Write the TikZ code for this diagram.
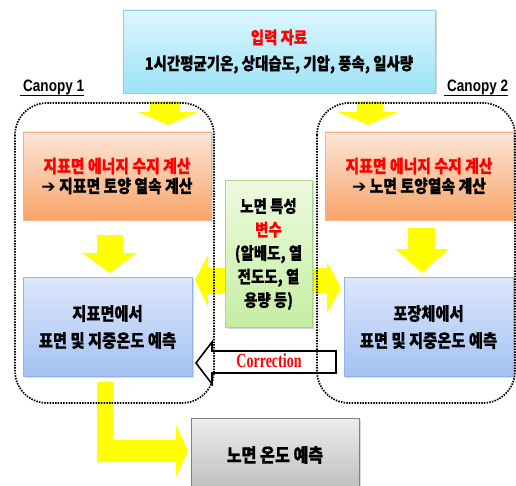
\documentclass[tikz,border=0pt]{standalone}
\usepackage{fontspec}
\usetikzlibrary{shadows}
\newfontfamily\kr{Noto Sans CJK KR}[FakeStretch=0.85, BoldFeatures={FakeBold=0.6}]
\newfontfamily\canfont{Liberation Sans}[FakeStretch=0.82]
\newfontfamily\corrfont{Liberation Serif}[FakeStretch=0.7]
\newfontfamily\dv{DejaVu Sans}
\definecolor{cyanT}{HTML}{DDF6FD}\definecolor{cyanB}{HTML}{9CE2F7}\definecolor{cyanD}{HTML}{8CCFE6}
\definecolor{orT}{HTML}{FDE6D8}\definecolor{orB}{HTML}{F8A468}\definecolor{orD}{HTML}{F4B183}
\definecolor{blT}{HTML}{DDE8FB}\definecolor{blB}{HTML}{A3C1F3}\definecolor{blD}{HTML}{95B3E3}
\definecolor{grT}{HTML}{EEFADF}\definecolor{grB}{HTML}{C4EEA2}\definecolor{grD}{HTML}{A9D68A}
\definecolor{gyT}{HTML}{EDEDED}\definecolor{gyB}{HTML}{BDBDBD}\definecolor{gyD}{HTML}{7F7F7F}
\definecolor{yel}{HTML}{FFFF00}
\tikzset{
  boxbase/.style={draw, line width=0.8pt, align=center, inner sep=0pt,
    drop shadow={shadow xshift=1.5pt, shadow yshift=-1.5pt, opacity=0.3},
    font=\kr\bfseries\fontsize{17.5}{20}\selectfont},
  cyanbox/.style={boxbase, draw=cyanD, top color=cyanT, bottom color=cyanB},
  orbox/.style={boxbase, draw=orD, top color=orT, bottom color=orB},
  blbox/.style={boxbase, draw=blD, top color=blT, bottom color=blB},
  grbox/.style={boxbase, draw=grD, top color=grT, bottom color=grB},
  gybox/.style={boxbase, draw=gyD, top color=gyT, bottom color=gyB},
  yarrow/.style={fill=yel, draw=none},
  canopy/.style={draw=black, line width=1.7pt, dash pattern=on 1.5pt off 1.2pt, rounded corners=32pt},
  canlabel/.style={inner sep=0pt, anchor=base west, font=\canfont\bfseries\fontsize{16.5}{18}\selectfont},
}
\newcommand{\bigarr}{{\dv\bfseries\fontsize{17}{20}\selectfont ➔}}
\begin{document}
\begin{tikzpicture}[x=1pt,y=-1pt]
\clip (0,0) rectangle (516,486);
\fill[white] (0,0) rectangle (516,486);
% yellow arrows
\fill[yarrow] (150,101)--(180,101)--(180,112)--(198,112)--(168,125)--(138,112)--(150,112)--cycle;
\fill[yarrow] (357,101)--(383,101)--(383,112)--(398,112)--(368,125)--(338,112)--(357,112)--cycle;
\fill[yarrow] (97,235)--(123,235)--(123,253)--(137,253)--(110,273)--(82,253)--(97,253)--cycle;
\fill[yarrow] (408,228)--(435,228)--(435,249)--(449,249)--(422,273)--(395,249)--(408,249)--cycle;
\fill[yarrow] (228,268)--(208,268)--(208,255)--(195,280)--(208,307)--(208,293)--(228,293)--cycle;
\fill[yarrow] (308,268)--(327,268)--(327,262)--(341,288)--(327,313)--(327,293)--(308,293)--cycle;
\fill[yarrow] (97,382)--(113,382)--(113,440)--(176,440)--(176,425)--(188,451)--(176,477)--(176,462)--(97,462)--cycle;
% correction arrow
\draw[fill=white, line width=1.6pt, line join=miter] (196,363)--(212,342)--(212,351)--(336,351)--(336,373)--(212,373)--(212,384)--cycle;
\node[text=red, font=\corrfont\bfseries\fontsize{20}{20}\selectfont] (corr) at (269,361) {Correction};
% boxes
\node[cyanbox, minimum width=312pt, minimum height=83pt, font=\kr\bfseries\fontsize{17}{26}\selectfont] (input) at (279,51.5)
  {{\color{red}입력 자료}\\1시간평균기온, 상대습도, 기압, 풍속, 일사량};
\node[orbox, minimum width=188pt, minimum height=88pt] (eb1) at (117,176)
  {{\color{red}지표면 에너지 수지 계산}\\\bigarr{} 지표면 토양 열속 계산};
\node[orbox, minimum width=188pt, minimum height=88pt] (eb2) at (419,176)
  {{\color{red}지표면 에너지 수지 계산}\\\bigarr{} 노면 토양열속 계산};
\node[grbox, minimum width=87pt, minimum height=147pt, font=\kr\bfseries\fontsize{17}{23.5}\selectfont] (param) at (268.5,254)
  {노면 특성\\{\color{red}변수}\\(알베도, 열\\전도도, 열\\용량 등)};
\node[blbox, minimum width=169pt, minimum height=99pt, font=\kr\bfseries\fontsize{18}{27}\selectfont] (pred1) at (107.5,327)
  {지표면에서\\표면 및 지중온도 예측};
\node[blbox, minimum width=169pt, minimum height=99pt, font=\kr\bfseries\fontsize{18}{27}\selectfont] (pred2) at (428.5,327)
  {포장체에서\\표면 및 지중온도 예측};
\node[gybox, minimum width=168pt, minimum height=74pt, font=\kr\bfseries\fontsize{19}{20}\selectfont] (road) at (275,455)
  {노면 온도 예측};
% canopy regions
\draw[canopy] (15,103) rectangle (214,403);
\draw[canopy] (317,103) rectangle (515,403);
\node[canlabel] (c1) at (23,92) {Canopy 1};
\node[canlabel] (c2) at (447,92) {Canopy 2};
\draw[line width=1pt] ([xshift=-3pt]c1.south west) -- (c1.south east);
\draw[line width=1pt] ([xshift=-3pt]c2.south west) -- (c2.south east);
\end{tikzpicture}
\end{document}
